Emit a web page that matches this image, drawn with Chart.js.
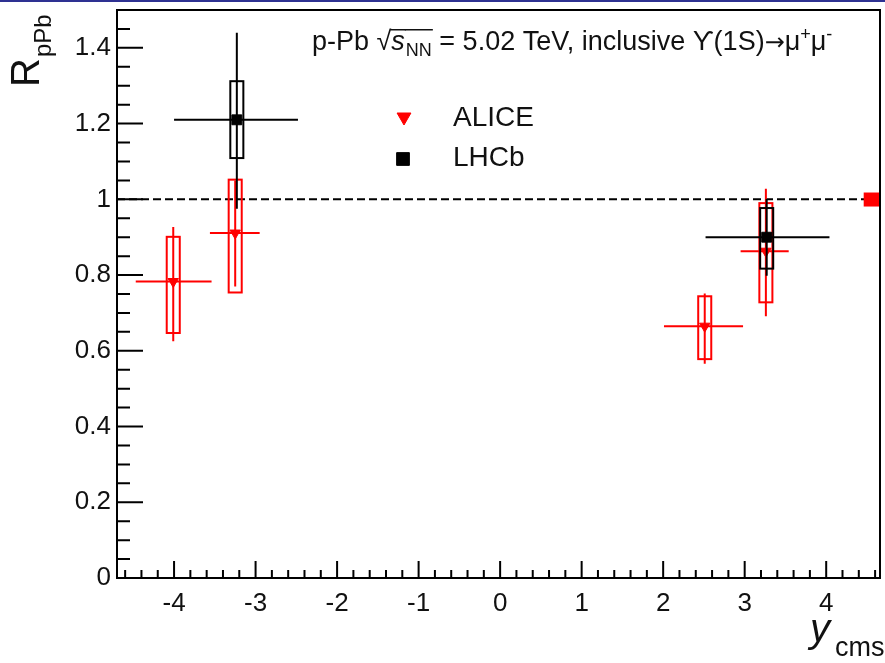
<!DOCTYPE html>
<html>
<head>
<meta charset="utf-8">
<script src="https://cdn.jsdelivr.net/npm/chart.js@4.4.1/dist/chart.umd.min.js"></script>
<style>
  html, body { margin: 0; padding: 0; background: #fff; }
</style>
</head>
<body>
<canvas id="rppb" width="885" height="663"></canvas>
<script>
// ALICE inclusive Y(1S) -> mu+mu-, R_pPb vs y_cms
const aliceX = [-4.01, -3.25, 2.51, 3.26];
const aliceXLow = [-4.47, -3.56, 2.01, 2.95];
const aliceXHigh = [-3.54, -2.95, 2.98, 3.54];
const aliceR = [0.783, 0.911, 0.665, 0.863];
const aliceStatLow = [0.625, 0.77, 0.566, 0.691];
const aliceStatHigh = [0.927, 1.05, 0.751, 1.028];
const aliceSysLow = [0.647, 0.754, 0.578, 0.728];
const aliceSysHigh = [0.901, 1.052, 0.744, 0.990];
const aliceGlobal = [0.981, 1.018];   // correlated unc. box drawn at the right edge

// LHCb
const lhcbX = [-3.23, 3.27];
const lhcbXLow = [-4.0, 2.52];
const lhcbXHigh = [-2.48, 4.04];
const lhcbR = [1.21, 0.90];
const lhcbStatLow = [0.975, 0.798];
const lhcbStatHigh = [1.44, 1.001];
const lhcbSysLow = [1.109, 0.817];
const lhcbSysHigh = [1.312, 0.977];

const xTicks = [-4, -3, -2, -1, 0, 1, 2, 3, 4];
const yTicks = [0, 0.2, 0.4, 0.6, 0.8, 1, 1.2, 1.4];

const RED = '#ff0000';
const BLACK = '#000000';
const FONT = '"Liberation Sans", Arial, Helvetica, sans-serif';
const boxHalf = 0.08;   // half width of the syst. boxes, in y_cms units

function drawErrors(ctx, xs, ys, x, r, xlo, xhi, slo, shi, blo, bhi, color) {
	ctx.save();
	ctx.strokeStyle = color;
	ctx.lineWidth = 2;
	for (let i = 0; i < x.length; i++) {
		const px = xs.getPixelForValue(x[i]);
		const py = ys.getPixelForValue(r[i]);
		const bl = xs.getPixelForValue(x[i] - boxHalf);
		const br = xs.getPixelForValue(x[i] + boxHalf);
		const bt = ys.getPixelForValue(bhi[i]);
		const bb = ys.getPixelForValue(blo[i]);
		ctx.strokeRect(bl, bt, br - bl, bb - bt);
		ctx.beginPath();
		ctx.moveTo(xs.getPixelForValue(xlo[i]), py);
		ctx.lineTo(xs.getPixelForValue(xhi[i]), py);
		ctx.moveTo(px, ys.getPixelForValue(shi[i]));
		ctx.lineTo(px, ys.getPixelForValue(slo[i]));
		ctx.stroke();
	}
	ctx.restore();
}

function drawParts(ctx, x, y, parts) {
	for (const p of parts) {
		ctx.font = p.font;
		ctx.fillText(p.t, x, y + (p.dy || 0));
		const w = ctx.measureText(p.t).width;
		if (p.over) {
			ctx.fillRect(x - 1, y + p.over, w + 2, 1.5);
		}
		x += w + (p.gap || 0);
	}
	return x;
}

const rootStyle = {
	id: 'rootStyle',
	beforeDraw(chart) {
		const ctx = chart.ctx;
		ctx.save();
		ctx.fillStyle = '#ffffff';
		ctx.fillRect(0, 0, chart.width, chart.height);
		ctx.fillStyle = '#2e3192';
		ctx.fillRect(0, 0, chart.width, 2);
		ctx.restore();
	},
	beforeDatasetsDraw(chart) {
		const ctx = chart.ctx;
		const xs = chart.scales.x, ys = chart.scales.y;
		const a = chart.chartArea;
		ctx.save();
		// dashed line at R = 1
		ctx.strokeStyle = BLACK;
		ctx.lineWidth = 2;
		ctx.setLineDash([8, 4]);
		ctx.beginPath();
		ctx.moveTo(a.left, ys.getPixelForValue(1));
		ctx.lineTo(a.right, ys.getPixelForValue(1));
		ctx.stroke();
		ctx.setLineDash([]);
		// global uncertainty box
		ctx.fillStyle = RED;
		const gt = ys.getPixelForValue(aliceGlobal[1]);
		const gb = ys.getPixelForValue(aliceGlobal[0]);
		const gl = xs.getPixelForValue(4.46);
		ctx.fillRect(gl, gt, a.right - gl, gb - gt);
		ctx.restore();
	},
	beforeDatasetDraw(chart, args) {
		const ctx = chart.ctx;
		const xs = chart.scales.x, ys = chart.scales.y;
		if (args.index === 0) {
			drawErrors(ctx, xs, ys, aliceX, aliceR, aliceXLow, aliceXHigh,
				aliceStatLow, aliceStatHigh, aliceSysLow, aliceSysHigh, RED);
		} else {
			drawErrors(ctx, xs, ys, lhcbX, lhcbR, lhcbXLow, lhcbXHigh,
				lhcbStatLow, lhcbStatHigh, lhcbSysLow, lhcbSysHigh, BLACK);
		}
	},
	afterDraw(chart) {
		const ctx = chart.ctx;
		const xs = chart.scales.x, ys = chart.scales.y;
		const a = chart.chartArea;
		ctx.save();

		// frame
		ctx.strokeStyle = BLACK;
		ctx.lineWidth = 2;
		ctx.strokeRect(a.left, a.top, a.right - a.left, a.bottom - a.top);

		// inward ticks, ROOT style
		ctx.beginPath();
		for (let k = 0; k <= 30; k++) {
			const py = ys.getPixelForValue(k * 0.05);
			const len = (k % 4 === 0) ? 26 : 13;
			ctx.moveTo(a.left, py);
			ctx.lineTo(a.left + len, py);
		}
		for (let k = -23; k <= 23; k++) {
			const px = xs.getPixelForValue(k * 0.2);
			if (px <= a.left + 1 || px >= a.right - 1) continue;
			const len = (k % 5 === 0) ? 17 : 8;
			ctx.moveTo(px, a.bottom);
			ctx.lineTo(px, a.bottom - len);
		}
		ctx.stroke();

		// legend
		const h = Chart.helpers;
		ctx.fillStyle = RED;
		ctx.strokeStyle = RED;
		ctx.lineWidth = 1;
		h.drawPoint(ctx, { pointStyle: 'triangle', rotation: 180, radius: 8, borderWidth: 1 }, 404, 117);
		ctx.fillStyle = BLACK;
		ctx.strokeStyle = BLACK;
		h.drawPoint(ctx, { pointStyle: 'rect', rotation: 0, radius: 9, borderWidth: 1 }, 403, 159);
		ctx.fillStyle = '#111';
		ctx.font = '28px ' + FONT;
		ctx.textBaseline = 'alphabetic';
		ctx.textAlign = 'left';
		ctx.fillText('ALICE', 453, 126);
		ctx.fillText('LHCb', 453, 166);

		// header
		const n = '27px ' + FONT;
		const it = 'italic 27px ' + FONT;
		const sub = '18px ' + FONT;
		drawParts(ctx, 312, 50, [
			{ t: 'p-Pb ', font: n },
			{ t: '\u221A', font: n },
			{ t: 's', font: it, over: -21, gap: 1 },
			{ t: 'NN', font: sub, dy: 6, over: -21 },
			{ t: ' = 5.02 TeV, inclusive \u03D2(1S)', font: n },
			{ t: '\u2192', font: '24px "DejaVu Sans", sans-serif' },
			{ t: '\u03BC', font: n },
			{ t: '+', font: sub, dy: -10 },
			{ t: '\u03BC', font: n },
			{ t: '-', font: sub, dy: -10 }
		]);

		// y title
		ctx.save();
		ctx.translate(39, 87);
		ctx.rotate(-Math.PI / 2);
		ctx.fillStyle = '#111';
		drawParts(ctx, 0, 0, [
			{ t: 'R', font: '40px ' + FONT, gap: 1 },
			{ t: 'pPb', font: '24px ' + FONT, dy: 12 }
		]);
		ctx.restore();

		// x title
		ctx.font = 'italic 40px ' + FONT;
		ctx.fillText('y', 810, 642);
		ctx.font = '27px ' + FONT;
		ctx.fillText('cms', 835, 656);

		ctx.restore();
	}
};

new Chart(document.getElementById('rppb'), {
	type: 'scatter',
	data: {
		datasets: [
			{
				label: 'ALICE',
				data: aliceX.map((x, i) => ({ x: x, y: aliceR[i] })),
				pointStyle: 'triangle',
				rotation: 180,
				pointRadius: 6,
				backgroundColor: RED,
				borderColor: RED,
				borderWidth: 1,
				order: 2
			},
			{
				label: 'LHCb',
				data: lhcbX.map((x, i) => ({ x: x, y: lhcbR[i] })),
				pointStyle: 'rect',
				pointRadius: 7,
				backgroundColor: BLACK,
				borderColor: BLACK,
				borderWidth: 1,
				order: 1
			}
		]
	},
	options: {
		responsive: false,
		devicePixelRatio: 1,
		animation: false,
		layout: { autoPadding: false, padding: { left: 0, right: 5, top: 10, bottom: 0 } },
		plugins: {
			legend: { display: false },
			tooltip: { enabled: false }
		},
		scales: {
			x: {
				type: 'linear',
				min: -4.7,
				max: 4.66,
				grid: { display: false, drawTicks: false },
				border: { display: false },
				afterBuildTicks: s => { s.ticks = xTicks.map(v => ({ value: v })); },
				afterFit: s => { s.height = 85; s.paddingLeft = 0; s.paddingRight = 0; },
				ticks: {
					padding: 10,
					maxRotation: 0,
					color: '#111',
					font: { family: FONT, size: 26 },
					callback: v => String(v)
				}
			},
			y: {
				type: 'linear',
				min: 0,
				max: 1.5,
				grid: { display: false, drawTicks: false },
				border: { display: false },
				afterBuildTicks: s => { s.ticks = yTicks.map(v => ({ value: v })); },
				afterFit: s => { s.width = 117; s.paddingTop = 0; s.paddingBottom = 0; },
				ticks: {
					padding: 6,
					color: '#111',
					font: { family: FONT, size: 26 },
					callback: v => String(v)
				}
			}
		}
	},
	plugins: [rootStyle]
});
</script>
</body>
</html>
